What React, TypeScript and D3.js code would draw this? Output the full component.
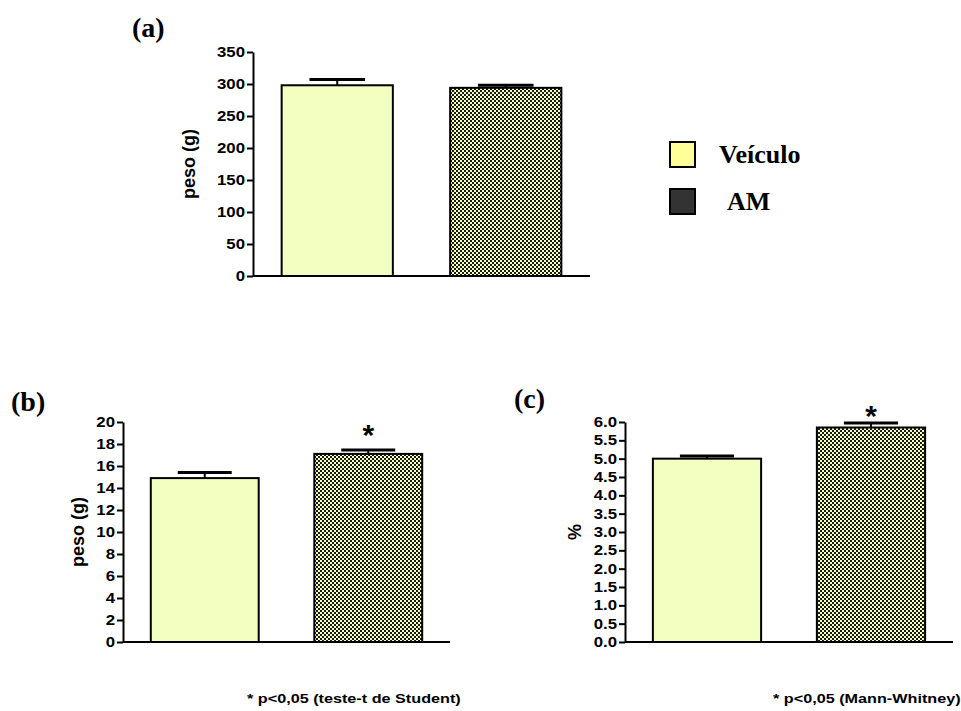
import * as d3 from "d3";
import { useEffect, useRef } from "react";

// groups
const groups = ["Veículo", "AM"];

// (a) peso corporal
const pesoA = [298, 294];
const errA = [9, 4];
// (b) peso (g)
const pesoB = [14.9, 17.1];
const errB = [0.5, 0.35];
const starB = [null, 19.1];
// (c) %
const pctC = [5.0, 5.85];
const errC = [0.07, 0.12];
const starC = [null, 6.25];

const ticksA = d3.range(0, 351, 50);
const ticksB = d3.range(0, 21, 2);
const ticksC = d3.range(0, 6.01, 0.5);

const SX = 1.2; // horizontal stretch of the text in the original figure
const sans = "'Liberation Sans', Arial, sans-serif";
const serif = "'Liberation Serif', 'Times New Roman', serif";
const lightFill = "#F2FFC0";

type Panel = {
  values: number[];
  errors: number[];
  stars?: (number | null)[];
  ticks: number[];
  fmt: (d: number) => string;
  x0: number;
  x1: number;
  yTop: number;
  yBottom: number;
  max: number;
  label: string;
  labelX: number;
};

export default function App() {
  const ref = useRef<SVGSVGElement>(null);

  useEffect(() => {
    if (!ref.current) return;
    const svg = d3.select(ref.current);
    svg.selectAll("*").remove();

    // cross-hatch pattern for the AM bars (2x2 light blocks on dark, diagonal lattice)
    const defs = svg.append("defs");
    const pat = defs
      .append("pattern")
      .attr("id", "hatch")
      .attr("patternUnits", "userSpaceOnUse")
      .attr("width", 4)
      .attr("height", 4);
    pat.append("rect").attr("width", 4).attr("height", 4).attr("fill", "#1a1a1a");
    pat.append("rect").attr("x", 0).attr("y", 0).attr("width", 2).attr("height", 2).attr("fill", lightFill);
    pat.append("rect").attr("x", 2).attr("y", 2).attr("width", 2).attr("height", 2).attr("fill", lightFill);

    const panels: Panel[] = [
      {
        values: pesoA, errors: errA, ticks: ticksA, fmt: d3.format("d"),
        x0: 253, x1: 590, yTop: 52, yBottom: 276, max: 350, label: "peso (g)", labelX: 195,
      },
      {
        values: pesoB, errors: errB, stars: starB, ticks: ticksB, fmt: d3.format("d"),
        x0: 123, x1: 450, yTop: 422, yBottom: 642, max: 20, label: "peso (g)", labelX: 84,
      },
      {
        values: pctC, errors: errC, stars: starC, ticks: ticksC, fmt: d3.format(".1f"),
        x0: 625, x1: 953, yTop: 422, yBottom: 642, max: 6, label: "%", labelX: 581,
      },
    ];

    panels.forEach((p) => {
      const x = d3.scaleBand<string>().domain(groups).range([p.x0, p.x1]).paddingInner(0.34).paddingOuter(0.17);
      const y = d3.scaleLinear().domain([0, p.max]).range([p.yBottom, p.yTop]);
      const g = svg.append("g");

      // bars
      g.selectAll("rect.bar")
        .data(p.values)
        .join("rect")
        .attr("class", "bar")
        .attr("x", (_, i) => x(groups[i])!)
        .attr("y", (d) => y(d))
        .attr("width", x.bandwidth())
        .attr("height", (d) => y(0) - y(d))
        .attr("fill", (_, i) => (i === 0 ? lightFill : "url(#hatch)"))
        .attr("stroke", "#000")
        .attr("stroke-width", 2);

      // error bars (upper only)
      const cx = (i: number) => x(groups[i])! + x.bandwidth() / 2;
      g.selectAll("line.err")
        .data(p.values)
        .join("line")
        .attr("x1", (_, i) => cx(i))
        .attr("x2", (_, i) => cx(i))
        .attr("y1", (d) => y(d))
        .attr("y2", (d, i) => y(d + p.errors[i]))
        .attr("stroke", "#000")
        .attr("stroke-width", 2);
      g.selectAll("line.cap")
        .data(p.values)
        .join("line")
        .attr("x1", (_, i) => cx(i) - x.bandwidth() / 4)
        .attr("x2", (_, i) => cx(i) + x.bandwidth() / 4)
        .attr("y1", (d, i) => y(d + p.errors[i]))
        .attr("y2", (d, i) => y(d + p.errors[i]))
        .attr("stroke", "#000")
        .attr("stroke-width", 3);

      // significance stars
      if (p.stars) {
        p.stars.forEach((s, i) => {
          if (s == null) return;
          g.append("text")
            .attr("x", cx(i))
            .attr("y", y(s) + 13)
            .attr("text-anchor", "middle")
            .style("font-family", sans)
            .style("font-weight", "bold")
            .style("font-size", "30px")
            .text("*");
        });
      }

      // y axis
      const ax = g
        .append("g")
        .attr("transform", `translate(${p.x0},0)`)
        .call(d3.axisLeft(y).tickValues(p.ticks).tickFormat(p.fmt as any).tickSize(6).tickSizeOuter(0).tickPadding(2));
      ax.select(".domain").attr("stroke-width", 2);
      ax.selectAll(".tick line").attr("stroke-width", 2);
      ax.selectAll(".tick text")
        .attr("font-family", sans)
        .attr("font-weight", "bold")
        .attr("font-size", 14)
        .attr("fill", "#000")
        .attr("x", -8 / SX)
        .attr("transform", `scale(${SX},1)`);

      // x axis line
      g.append("line")
        .attr("x1", p.x0)
        .attr("x2", p.x1)
        .attr("y1", y(0))
        .attr("y2", y(0))
        .attr("stroke", "#000")
        .attr("stroke-width", 2);

      // y label
      g.append("text")
        .attr("transform", `translate(${p.labelX},${(p.yTop + p.yBottom) / 2}) rotate(-90)`)
        .attr("text-anchor", "middle")
        .style("font-family", sans)
        .style("font-weight", "bold")
        .style("font-size", "18px")
        .text(p.label);
    });

    // panel letters
    const letters = [
      { t: "(a)", x: 132, y: 37 },
      { t: "(b)", x: 11, y: 411 },
      { t: "(c)", x: 514, y: 408 },
    ];
    letters.forEach((l) => {
      svg.append("text")
        .attr("x", l.x)
        .attr("y", l.y)
        .style("font-family", serif)
        .style("font-weight", "bold")
        .style("font-size", "28px")
        .text(l.t);
    });

    // legend
    const legFills = ["#FFFF99", "#333333"];
    groups.forEach((name, i) => {
      const ly = 142 + i * 47;
      svg.append("rect")
        .attr("x", 670)
        .attr("y", ly)
        .attr("width", 25)
        .attr("height", 25)
        .attr("fill", legFills[i])
        .attr("stroke", "#000")
        .attr("stroke-width", 2);
      svg.append("text")
        .attr("x", i === 0 ? 719 : 727)
        .attr("y", ly + 21)
        .style("font-family", serif)
        .style("font-weight", "bold")
        .style("font-size", "26px")
        .text(name);
    });

    // footnotes
    const notes = [
      { t: "* p<0,05 (teste-t de Student)", x: 247, y: 703 },
      { t: "* p<0,05 (Mann-Whitney)", x: 773, y: 703 },
    ];
    notes.forEach((n) => {
      svg.append("text")
        .attr("transform", `translate(${n.x},${n.y}) scale(${SX},1)`)
        .style("font-family", sans)
        .style("font-weight", "bold")
        .style("font-size", "13.5px")
        .text(n.t);
    });
  }, []);

  return (
    <svg
      ref={ref}
      width={961}
      height={711}
      style={{ position: "absolute", left: 0, top: 0, background: "#fff" }}
    />
  );
}
